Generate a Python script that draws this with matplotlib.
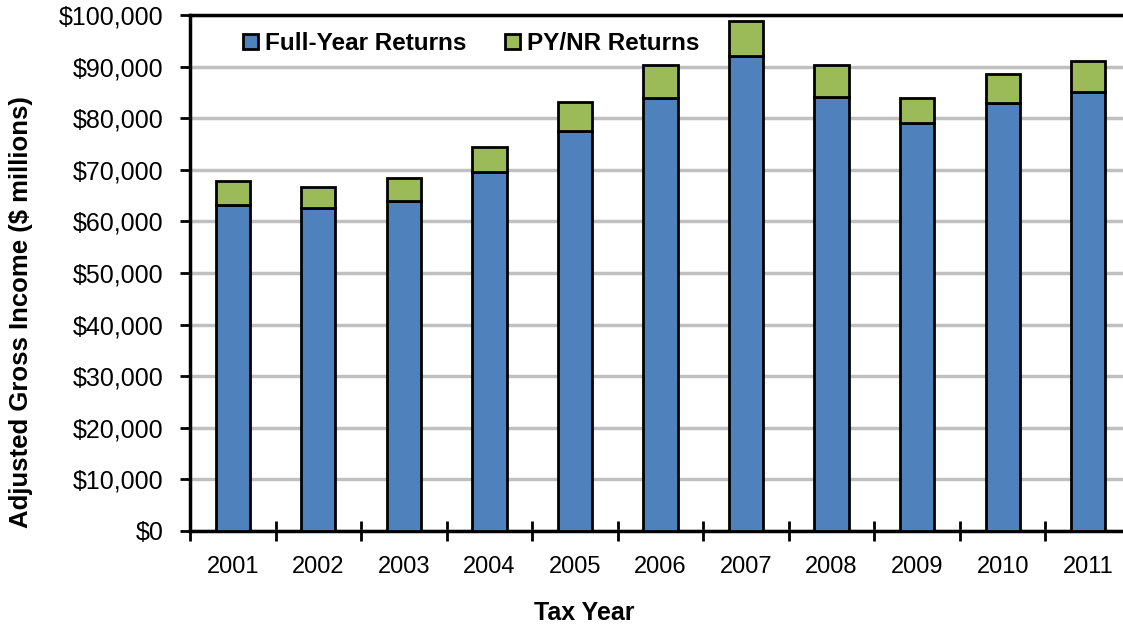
import numpy as np
import matplotlib
matplotlib.use("Agg")
import matplotlib.pyplot as plt
from matplotlib.ticker import FuncFormatter, MultipleLocator

# Adjusted gross income by tax year ($ millions)
years = ['2001', '2002', '2003', '2004', '2005', '2006',
         '2007', '2008', '2009', '2010', '2011']
full_year = [63200, 62500, 64000, 69600, 77500, 83900,
             92100, 84200, 79000, 82900, 85000]
py_nr = [4700, 4200, 4500, 4900, 5700, 6400,
         6800, 6100, 5000, 5600, 6100]

plt.rcParams['font.family'] = ['Liberation Sans', 'DejaVu Sans']

fig = plt.figure(figsize=(11.23, 6.29), dpi=100)
# axes runs a bit past the right edge, like the original
ax = fig.add_axes([190/1123, (629-531)/629, 941/1123, 516/629])

x = np.arange(len(years))
ax.bar(x, full_year, width=0.4, color='#4F81BD', edgecolor='black',
       linewidth=2, label='Full-Year Returns', zorder=3)
ax.bar(x, py_nr, width=0.4, bottom=full_year, color='#9BBB59',
       edgecolor='black', linewidth=2, label='PY/NR Returns', zorder=3)

ax.set_xlim(-0.5, len(years) - 0.5)
ax.set_ylim(0, 100000)
ax.yaxis.set_major_locator(MultipleLocator(10000))
ax.yaxis.set_major_formatter(FuncFormatter(lambda v, p: '${:,.0f}'.format(v)))
ax.grid(axis='y', color='#C0C0C0', linewidth=2.5, zorder=0)

# year labels centred, tick marks on category boundaries
ax.set_xticks(x)
ax.set_xticklabels(years)
ax.tick_params(axis='x', which='major', length=0, pad=18, labelsize=17)
ax.set_xticks(np.arange(-0.5, len(years) - 0.4, 1), minor=True)
ax.tick_params(axis='x', which='minor', direction='inout', length=14, width=2)
ax.tick_params(axis='y', direction='out', length=7, width=2, labelsize=18, pad=12)

for s in ['left', 'bottom', 'top']:
    ax.spines[s].set_linewidth(2.5)
ax.spines['right'].set_visible(False)

# axis titles placed where they sit in the original
fig.text(584/1123, 1 - 613/629, 'Tax Year', fontsize=18, fontweight='bold',
         ha='center', va='center')
fig.text(21/1123, 1 - 312/629, 'Adjusted Gross Income ($ millions)',
         fontsize=18.5, fontweight='bold', rotation=90,
         ha='center', va='center')

leg = ax.legend(loc='upper left', ncol=2, frameon=False,
                prop={'weight': 'bold', 'size': 17.5},
                handlelength=0.6, handleheight=0.6, handletextpad=0.3,
                columnspacing=1.6, bbox_to_anchor=(0.033, 1.009))

fig.savefig('out.png', dpi=100)
